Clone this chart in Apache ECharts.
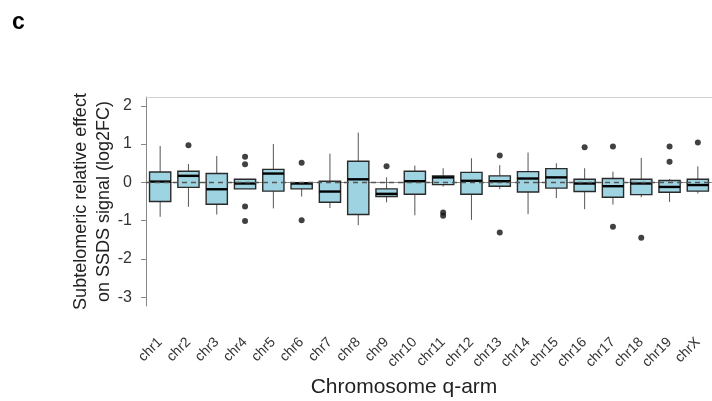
<!DOCTYPE html>
<html>
<head>
<meta charset="utf-8">
<script src="https://cdn.jsdelivr.net/npm/echarts@6/dist/echarts.min.js"></script>
<style>html,body{margin:0;padding:0;background:#fff}#chart{width:712px;height:401px}</style>
</head>
<body>
<div id="chart"></div>
<script>
const categories = ['chr1','chr2','chr3','chr4','chr5','chr6','chr7','chr8','chr9','chr10','chr11','chr12','chr13','chr14','chr15','chr16','chr17','chr18','chr19','chrX'];
const whiskerHigh = [0.95, 0.48, 0.69, 0.08, 1.00, -0.01, 0.75, 1.30, 0.13, 0.44, 0.37, 0.63, 0.45, 0.78, 0.50, 0.37, 0.28, 0.64, 0.09, 0.42];
const q3 =          [0.27, 0.29, 0.23, 0.08, 0.34, -0.01, 0.03, 0.55, -0.17, 0.29, 0.17, 0.26, 0.17, 0.28, 0.36, 0.08, 0.10, 0.08, 0.05, 0.08];
const median =      [0.02, 0.17, -0.18, -0.03, 0.23, -0.03, -0.24, 0.08, -0.30, 0.03, 0.13, 0.04, 0.03, 0.10, 0.13, -0.03, -0.10, -0.03, -0.12, -0.07];
const q1 =          [-0.50, -0.13, -0.57, -0.17, -0.23, -0.17, -0.52, -0.84, -0.37, -0.31, -0.06, -0.31, -0.10, -0.25, -0.15, -0.24, -0.39, -0.32, -0.26, -0.23];
const whiskerLow =  [-0.90, -0.64, -0.84, -0.17, -0.68, -0.37, -0.67, -1.12, -0.52, -0.86, -0.11, -0.98, -0.18, -0.83, -0.41, -0.70, -0.58, -0.39, -0.51, -0.29];
const outlierCats = ['chr2','chr4','chr4','chr4','chr4','chr6','chr6','chr9','chr11','chr11','chr13','chr13','chr16','chr17','chr17','chr18','chr19','chr19','chrX'];
const outlierVals = [0.97, 0.67, 0.47, -0.63, -1.01, 0.51, -0.99, 0.42, -0.79, -0.87, 0.70, -1.31, 0.92, 0.94, -1.16, -1.45, 0.94, 0.54, 1.04];
const yTicks = [-3, -2, -1, 0, 1, 2];

const FONT = 'Liberation Sans, Arial, sans-serif';
const boxData = categories.map((c, i) => [i, whiskerLow[i], q1[i], median[i], q3[i], whiskerHigh[i]]);
const outlierData = outlierCats.map((c, k) => [categories.indexOf(c), outlierVals[k]]);

const chart = echarts.init(document.getElementById('chart'), null, {renderer: 'canvas'});
chart.setOption({
  animation: false,
  backgroundColor: '#fff',
  textStyle: {fontFamily: FONT},
  graphic: [{type: 'text', left: 12, top: 11, style: {text: 'c', font: 'bold 23px ' + FONT, fill: '#000'}}],
  grid: {left: 146, right: 0, top: 97, bottom: 95, containLabel: false, outerBoundsMode: 'none'},
  xAxis: [{
    type: 'category', data: categories, boundaryGap: true,
    axisLine: {lineStyle: {color: '#888', width: 1}},
    axisTick: {alignWithLabel: true, length: 8, lineStyle: {color: '#888'}},
    axisLabel: {rotate: 45, fontSize: 14, color: '#333', margin: 34, interval: 0, fontFamily: FONT},
    name: 'Chromosome q-arm', nameLocation: 'middle', nameGap: 71, nameMoveOverlap: false,
    nameTextStyle: {fontSize: 21, color: '#222', fontFamily: FONT, padding: [0, 50, 0, 0]}
  }, {
    type: 'category', data: categories, position: 'top',
    axisLine: {lineStyle: {color: '#d3d3d3', width: 1}},
    axisTick: {show: false}, axisLabel: {show: false}
  }],
  yAxis: {
    type: 'value', min: -3.23, max: 2.23,
    axisLine: {show: true, lineStyle: {color: '#888', width: 1}},
    axisTick: {show: true, length: 5, lineStyle: {color: '#888'}, customValues: yTicks},
    axisLabel: {fontSize: 16, color: '#333', margin: 14, customValues: yTicks, fontFamily: FONT},
    splitLine: {show: false},
    name: 'Subtelomeric relative effect\non SSDS signal (log2FC)', nameLocation: 'middle', nameRotate: 90, nameGap: 30, nameMoveOverlap: false,
    nameTextStyle: {fontSize: 18, color: '#222', lineHeight: 23, fontFamily: FONT}
  },
  series: [{
    type: 'custom',
    data: boxData,
    encode: {x: 0, y: [1, 2, 3, 4, 5]},
    z: 2,
    renderItem: function (params, api) {
      const i = api.value(0);
      const band = api.size([1, 0])[0];
      const w = band * 0.75;
      const pLow = api.coord([i, api.value(1)]);
      const pQ1 = api.coord([i, api.value(2)]);
      const pMed = api.coord([i, api.value(3)]);
      const pQ3 = api.coord([i, api.value(4)]);
      const pHigh = api.coord([i, api.value(5)]);
      const x = pMed[0];
      return {
        type: 'group',
        children: [
          {type: 'line', shape: {x1: x, y1: pQ3[1], x2: x, y2: pHigh[1]}, style: {stroke: '#555', lineWidth: 1}},
          {type: 'line', shape: {x1: x, y1: pQ1[1], x2: x, y2: pLow[1]}, style: {stroke: '#555', lineWidth: 1}},
          {type: 'rect', shape: {x: x - w / 2, y: pQ3[1], width: w, height: pQ1[1] - pQ3[1]}, style: {fill: '#9ed3e1', stroke: '#2a2a2a', lineWidth: 1.4}},
          {type: 'line', shape: {x1: x - w / 2, y1: pMed[1], x2: x + w / 2, y2: pMed[1]}, style: {stroke: '#000', lineWidth: 2.4}}
        ]
      };
    }
  }, {
    type: 'scatter',
    data: outlierData,
    symbol: 'circle', symbolSize: 6,
    itemStyle: {color: '#111'},
    z: 3,
    markLine: {
      silent: true, symbol: ['none', 'none'], label: {show: false},
      lineStyle: {type: [5, 4], color: '#555', width: 1.3},
      data: [{yAxis: 0}],
      z: 5
    }
  }]
});
</script>
</body>
</html>
